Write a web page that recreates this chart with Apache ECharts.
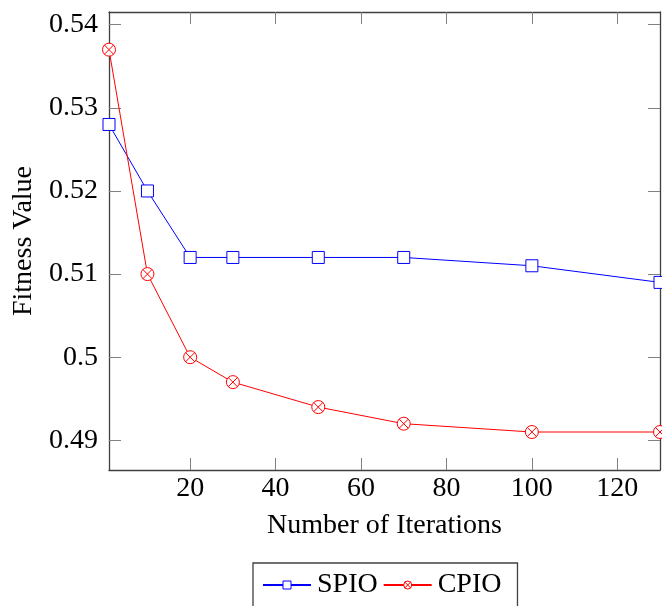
<!DOCTYPE html>
<html><head><meta charset="utf-8">
<script src="https://cdn.jsdelivr.net/npm/echarts@6/dist/echarts.min.js"></script>
<style>html,body{margin:0;padding:0;background:#fff}#c{width:662px;height:606px}</style>
</head><body><div id="c"></div>
<script>
const iterations = [1, 10, 20, 30, 50, 70, 100, 130];
const spio = [0.528, 0.520, 0.512, 0.512, 0.512, 0.512, 0.511, 0.509];
const cpio = [0.537, 0.510, 0.500, 0.497, 0.494, 0.492, 0.491, 0.491];
const xTicks = [20, 40, 60, 80, 100, 120];
const yTicks = [0.49, 0.50, 0.51, 0.52, 0.53, 0.54];

const FONT = 'Liberation Serif';
const FS = 28;
const otimes = 'path://M10 0A10 10 0 1 1 -10 0A10 10 0 1 1 10 0ZM-7.07 -7.07L7.07 7.07M-7.07 7.07L7.07 -7.07';
const frame = '#404040', tickC = '#808080';

function axisBase() {
  return {
    type: 'value',
    axisLine: {show: true, onZero: false, lineStyle: {color: frame, width: 1.3}},
    splitLine: {show: false}
  };
}
function ticks(vals) {
  return {show: true, inside: true, length: 12, customValues: vals, lineStyle: {color: tickC, width: 1}};
}
const fmtY = v => String(parseFloat(v.toFixed(2)));

const chart = echarts.init(document.getElementById('c'), null, {renderer: 'canvas'});
chart.setOption({
  animation: false,
  backgroundColor: '#fff',
  grid: {left: 109, top: 12, right: 2, bottom: 136, containLabel: false, outerBoundsMode: 'none'},
  xAxis: [
    Object.assign(axisBase(), {
      min: 1, max: 130, position: 'bottom',
      name: 'Number of Iterations', nameLocation: 'middle', nameGap: 42,
      nameTextStyle: {fontFamily: FONT, fontSize: FS, color: '#000'},
      axisTick: ticks(xTicks),
      axisLabel: {customValues: xTicks, fontFamily: FONT, fontSize: FS, color: '#000', margin: 5}
    }),
    Object.assign(axisBase(), {
      min: 1, max: 130, position: 'top',
      axisTick: ticks(xTicks),
      axisLabel: {show: false, customValues: xTicks}
    })
  ],
  yAxis: [
    Object.assign(axisBase(), {
      min: 0.48643, max: 0.54153, position: 'left',
      name: 'Fitness Value', nameLocation: 'middle', nameGap: 65, nameRotate: 90,
      nameTextStyle: {fontFamily: FONT, fontSize: FS, color: '#000'},
      axisTick: ticks(yTicks),
      axisLabel: {customValues: yTicks, formatter: fmtY, fontFamily: FONT, fontSize: FS, color: '#000', margin: 11}
    }),
    Object.assign(axisBase(), {
      min: 0.48643, max: 0.54153, position: 'right',
      axisTick: ticks(yTicks),
      axisLabel: {show: false, customValues: yTicks}
    })
  ],
  legend: {
    left: 253, top: 563,
    data: [
      {name: 'SPIO', itemStyle: {color: '#fff', borderColor: '#0000ff', borderWidth: 1}},
      {name: 'CPIO', itemStyle: {color: '#fff', borderColor: '#ff0000', borderWidth: 1}}
    ],
    itemWidth: 48, itemHeight: 10, itemGap: 5,
    padding: [8, 16, 20, 9],
    borderColor: frame, borderWidth: 1.3, borderRadius: 0,
    textStyle: {fontFamily: FONT, fontSize: FS, color: '#000', padding: [0, 0, 0, 1]}
  },
  series: [
    {
      name: 'SPIO', type: 'line', data: iterations.map((x, i) => [x, spio[i]]),
      symbol: 'rect', symbolSize: 12, showAllSymbol: true, clip: false,
      lineStyle: {color: '#0000ff', width: 1},
      itemStyle: {color: '#fff', borderColor: '#0000ff', borderWidth: 1}
    },
    {
      name: 'CPIO', type: 'line', data: iterations.map((x, i) => [x, cpio[i]]),
      symbol: otimes, symbolSize: 13, showAllSymbol: true, clip: false,
      lineStyle: {color: '#ff0000', width: 1},
      itemStyle: {color: '#fff', borderColor: '#ff0000', borderWidth: 1}
    }
  ]
});
</script></body></html>
